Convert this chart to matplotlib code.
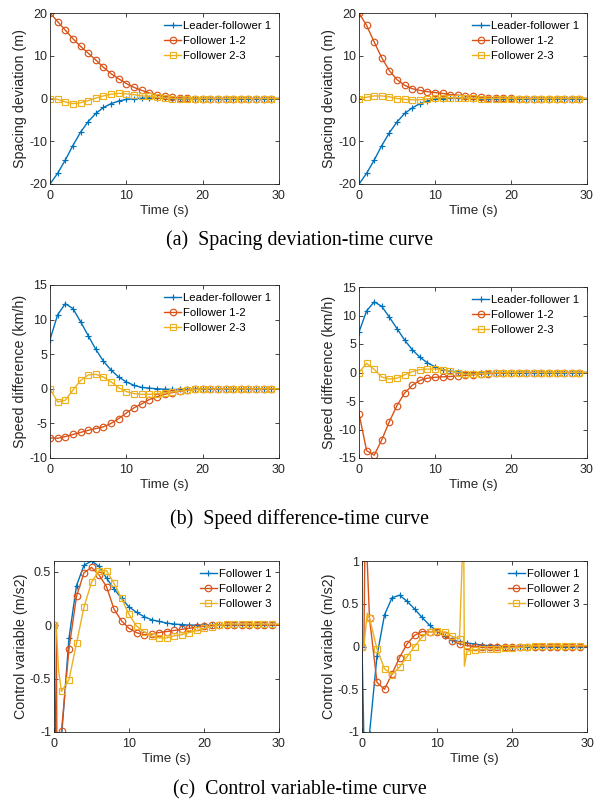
# Platoon simulation figure: spacing, speed difference and control variable
import numpy as np
import matplotlib
matplotlib.use("Agg")
import matplotlib.pyplot as plt

plt.rcParams["font.family"] = ["Liberation Sans", "DejaVu Sans"]

# ---- data ----
time = np.arange(0, 31)

# (a) spacing deviation (m)
lf1_a_left = [-20, -17.5, -14.4, -11.0, -7.9, -5.4, -3.5, -2.1, -1.2, -0.6, -0.2, -0.05, 0.05, 0.1, 0.1,
              0.05, 0, 0, 0, 0, 0, 0, 0, 0, 0, 0, 0, 0, 0, 0, 0]
f12_a_left = [20, 18.0, 16.0, 14.0, 12.2, 10.6, 9.0, 7.3, 5.8, 4.6, 3.5, 2.6, 1.9, 1.3, 0.8,
              0.5, 0.3, 0.15, 0.05, 0, 0, 0, 0, 0, 0, 0, 0, 0, 0, 0, 0]
f23_a_left = [0, -0.2, -0.8, -1.2, -1.0, -0.5, 0.1, 0.6, 1.0, 1.2, 1.1, 0.9, 0.6, 0.5, 0.3,
              0.1, 0, -0.1, -0.1, -0.1, 0, 0, 0, 0, 0, 0, 0, 0, 0, 0, 0]

lf1_a_right = [-20, -17.5, -14.4, -11.0, -8.0, -5.5, -3.5, -2.2, -1.2, -0.6, -0.1, 0.0, 0.1, 0.1, 0.05,
               0, 0, 0, 0, 0, 0, 0, 0, 0, 0, 0, 0, 0, 0, 0, 0]
f12_a_right = [20, 17.1, 13.2, 9.5, 6.5, 4.4, 3.1, 2.3, 1.9, 1.6, 1.4, 1.2, 0.9, 0.8, 0.6,
               0.5, 0.3, 0.2, 0.15, 0.1, 0.05, 0, 0, 0, 0, 0, 0, 0, 0, 0, 0]
f23_a_right = [0, 0.3, 0.6, 0.6, 0.4, 0.0, -0.2, -0.3, -0.3, -0.1, 0.1, 0.2, 0.2, 0.2, 0.1,
               0.05, 0, 0, 0, 0, 0, 0, 0, 0, 0, 0, 0, 0, 0, 0, 0]

# (b) speed difference (km/h)
lf1_b_left = [7.1, 10.7, 12.3, 11.6, 9.7, 7.7, 5.7, 4.0, 2.7, 1.7, 1.0, 0.5, 0.2, 0.1, 0.0,
              -0.05, -0.1, -0.1, -0.1, -0.05, 0, 0, 0, 0, 0, 0, 0, 0, 0, 0, 0]
f12_b_left = [-7.1, -7.15, -6.9, -6.6, -6.3, -6.0, -5.75, -5.5, -5.0, -4.3, -3.5, -2.75, -2.2, -1.55, -1.15,
              -0.8, -0.55, -0.35, -0.2, -0.1, 0, 0, 0, 0, 0, 0, 0, 0, 0, 0, 0]
f23_b_left = [0, -1.9, -1.65, -0.2, 1.2, 2.0, 2.1, 1.7, 1.0, 0.15, -0.4, -0.7, -0.8, -0.8, -0.7,
              -0.6, -0.45, -0.3, -0.2, -0.1, 0, 0, 0, 0, 0, 0, 0, 0, 0, 0, 0]

lf1_b_right = [7.1, 10.8, 12.4, 11.6, 9.7, 7.7, 5.7, 4.0, 2.7, 1.7, 1.0, 0.5, 0.25, 0.1, 0.0,
               -0.1, -0.1, -0.1, -0.05, 0, 0, 0, 0, 0, 0, 0, 0, 0, 0, 0, 0]
f12_b_right = [-7.2, -13.7, -14.5, -11.8, -8.6, -5.8, -3.6, -2.25, -1.4, -1.0, -0.85, -0.75, -0.7, -0.6, -0.5,
               -0.4, -0.3, -0.2, -0.15, -0.1, -0.05, 0, 0, 0, 0, 0, 0, 0, 0, 0, 0]
f23_b_right = [0, 1.6, 0.55, -0.8, -1.15, -1.0, -0.4, 0.15, 0.5, 0.6, 0.6, 0.5, 0.25, 0.0, -0.3,
               -0.3, -0.2, -0.1, -0.05, 0, 0, 0, 0, 0, 0, 0, 0, 0, 0, 0, 0]

# (c) control variable (m/s2), extra samples where the curves jump
t_f1_c_left = [0, 0.3] + list(range(1, 31))
f1_c_left = [0, -1.3, -1.05, -0.12, 0.37, 0.56, 0.6, 0.55, 0.44, 0.34, 0.25, 0.17, 0.12, 0.08, 0.05,
             0.035, 0.02, 0.01, 0.005, 0, 0, 0, 0, 0, 0, 0, 0, 0, 0, 0, 0, 0]
t_f2_c_left = [0, 0.3, 0.4] + list(range(1, 31))
f2_c_left = [0, 0, -1.3, -0.99, -0.22, 0.27, 0.49, 0.54, 0.47, 0.36, 0.15, 0.04, -0.03, -0.07, -0.09,
             -0.085, -0.07, -0.06, -0.05, -0.04, -0.03, -0.02, -0.01, 0, 0, 0, 0, 0, 0, 0, 0, 0, 0]
t_f3_c_left = [0, 0.3, 0.6] + list(range(1, 31))
f3_c_left = [0, 0, -0.42, -0.62, -0.51, -0.17, 0.17, 0.4, 0.51, 0.51, 0.39, 0.25, 0.1, -0.01, -0.06,
             -0.1, -0.12, -0.12, -0.1, -0.09, -0.07, -0.05, -0.03, -0.015, 0, 0.01, 0.01, 0.01, 0.01,
             0.01, 0.01, 0.01, 0.01]

t_f1_c_right = [0, 0.3] + list(range(1, 31))
f1_c_right = [0, -1.3, -1.02, -0.11, 0.37, 0.57, 0.6, 0.53, 0.44, 0.34, 0.25, 0.18, 0.12, 0.08, 0.055,
              0.04, 0.03, 0.015, 0.01, 0.005, 0, 0, 0, 0, 0, 0, 0, 0, 0, 0, 0, 0]
t_f2_c_right = [0, 0.25, 0.4, 0.6] + list(range(1, 31))
f2_c_right = [0, 0, 1.3, 1.2, 0.33, -0.42, -0.5, -0.32, -0.13, 0.03, 0.13, 0.175, 0.17, 0.175, 0.13,
              0.07, 0.03, 0.01, 0, -0.01, -0.01, -0.01, 0, 0, 0, 0, 0, 0, 0, 0, 0, 0, 0, 0]
t_f3_c_right = [0, 0.25, 0.7] + list(range(1, 14)) + [13.55, 13.65] + list(range(14, 31))
f3_c_right = [0, 0, 0.39, 0.33, -0.03, -0.26, -0.33, -0.24, -0.12, 0.0, 0.11, 0.17, 0.18, 0.17, 0.12,
              0.09, 1.5, -0.23, -0.055, -0.04, -0.035, -0.03, -0.025, -0.02, -0.015, -0.01, 0, 0.01,
              0.01, 0.01, 0.01, 0.01, 0.01, 0.01, 0.01]

labels_ab = ["Leader-follower 1", "Follower 1-2", "Follower 2-3"]
labels_c = ["Follower 1", "Follower 2", "Follower 3"]

# ---- styling ----
colors = ["#0072BD", "#D95319", "#EDB120"]
markers = ["+", "o", "s"]
axis_color = "#262626"
W, H = 602, 802

fig = plt.figure(figsize=(W / 100, H / 100), dpi=100)


def make_axes(x0, x1, top, bottom):
    return fig.add_axes([x0 / W, 1 - bottom / H, (x1 - x0) / W, (bottom - top) / H])


def draw_panel(ax, series, labels, ylim, yticks, ylabel):
    for (tt, yy), lab, col, mk in zip(series, labels, colors, markers):
        tt = np.asarray(tt, dtype=float)
        marks = [i for i, v in enumerate(tt) if float(v).is_integer() and v < 30]
        ax.plot(tt, yy, color=col, lw=1.0, marker=mk, markevery=marks, markersize=4.7,
                markerfacecolor="none", markeredgecolor=col, markeredgewidth=0.85, label=lab)
    ax.set_xlim(0, 30)
    ax.set_ylim(*ylim)
    ax.set_xticks([0, 10, 20, 30])
    ax.set_yticks(yticks)
    ax.set_yticklabels([f"{v:g}" for v in yticks])
    ax.tick_params(direction="in", top=True, right=True, length=3, width=0.6,
                   colors=axis_color, labelsize=9, pad=4.5)
    ax.tick_params(axis="y", pad=2)
    for s in ax.spines.values():
        s.set_color(axis_color)
        s.set_linewidth(0.6)
    ax.set_xlabel("Time (s)", fontsize=9.6, color=axis_color, labelpad=2)
    ax.set_ylabel(ylabel, fontsize=10.3, color=axis_color, labelpad=1.5)
    ax.legend(loc="upper right", frameon=False, fontsize=8.2, handlelength=1.5,
              handletextpad=0.15, labelspacing=0.45, borderaxespad=0.3)


ax = make_axes(50, 279, 13, 184)
draw_panel(ax, [(time, lf1_a_left), (time, f12_a_left), (time, f23_a_left)], labels_ab,
           (-20, 20), [-20, -10, 0, 10, 20], "Spacing deviation (m)")
ax = make_axes(359, 587, 13, 184)
draw_panel(ax, [(time, lf1_a_right), (time, f12_a_right), (time, f23_a_right)], labels_ab,
           (-20, 20), [-20, -10, 0, 10, 20], "Spacing deviation (m)")

ax = make_axes(50, 279, 285, 458)
draw_panel(ax, [(time, lf1_b_left), (time, f12_b_left), (time, f23_b_left)], labels_ab,
           (-10, 15), [-10, -5, 0, 5, 10, 15], "Speed difference (km/h)")
ax = make_axes(359, 587, 287, 458)
draw_panel(ax, [(time, lf1_b_right), (time, f12_b_right), (time, f23_b_right)], labels_ab,
           (-15, 15), [-15, -10, -5, 0, 5, 10, 15], "Speed difference (km/h)")

ax = make_axes(54, 279, 561, 732)
draw_panel(ax, [(t_f1_c_left, f1_c_left), (t_f2_c_left, f2_c_left), (t_f3_c_left, f3_c_left)],
           labels_c, (-1, 0.6), [-1, -0.5, 0, 0.5], "Control variable (m/s2)")
ax = make_axes(362, 587, 561, 732)
draw_panel(ax, [(t_f1_c_right, f1_c_right), (t_f2_c_right, f2_c_right), (t_f3_c_right, f3_c_right)],
           labels_c, (-1, 1), [-1, -0.5, 0, 0.5, 1], "Control variable (m/s2)")

captions = ["(a)  Spacing deviation-time curve", "(b)  Speed difference-time curve",
            "(c)  Control variable-time curve"]
caption_y = [240, 519, 790]
for cap, cy in zip(captions, caption_y):
    fig.text(300 / W, 1 - cy / H, cap, ha="center", va="center", fontsize=14.3,
             family=["Liberation Serif", "DejaVu Serif"], color="black")

fig.savefig("out.png", dpi=100)
